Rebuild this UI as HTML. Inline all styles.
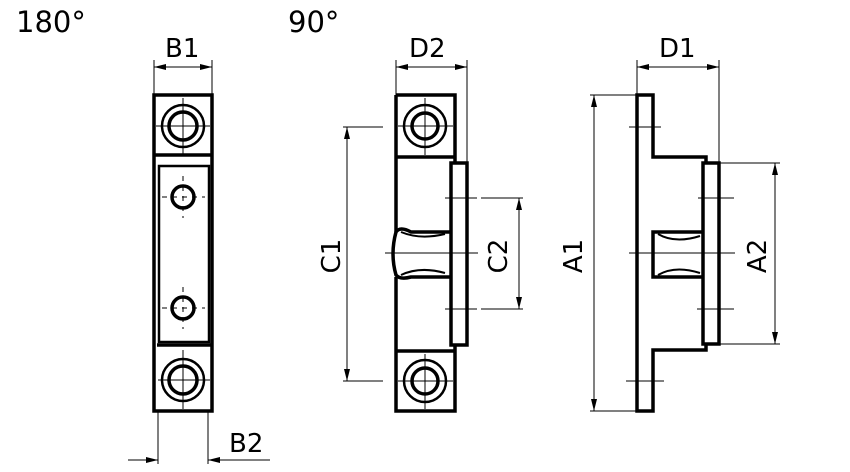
<!DOCTYPE html>
<html><head><meta charset="utf-8"><style>
html,body{margin:0;padding:0;background:#fff;}
svg{display:block;}
text{font-family:"DejaVu Sans","Liberation Sans",sans-serif;fill:#000;}
</style></head><body>
<svg width="850" height="472" viewBox="0 0 850 472" xmlns="http://www.w3.org/2000/svg">
<defs>
<marker id="a" viewBox="0 0 12 6" refX="12" refY="3" markerWidth="12" markerHeight="6" orient="auto-start-reverse" markerUnits="userSpaceOnUse"><path d="M0,0 L12,3 L0,6 z" fill="#000"/></marker>
</defs>
<text x="16" y="32" font-size="29">180°</text>
<text x="288" y="32" font-size="29">90°</text>
<text x="165" y="57" font-size="26">B1</text>
<text x="409" y="57" font-size="26">D2</text>
<text x="659" y="57" font-size="26">D1</text>
<text x="229" y="452" font-size="26">B2</text>
<text transform="translate(340,256) rotate(-90)" font-size="26" text-anchor="middle">C1</text>
<text transform="translate(507,256) rotate(-90)" font-size="26" text-anchor="middle">C2</text>
<text transform="translate(582,256) rotate(-90)" font-size="26" text-anchor="middle">A1</text>
<text transform="translate(766,256) rotate(-90)" font-size="26" text-anchor="middle">A2</text>

<g stroke="#000" stroke-width="1" fill="none">
<line x1="154" y1="60" x2="154" y2="95"/><line x1="212" y1="60" x2="212" y2="95"/>
<line x1="154" y1="67" x2="212" y2="67" marker-start="url(#a)" marker-end="url(#a)"/>
<line x1="158" y1="411" x2="158" y2="464"/><line x1="208" y1="411" x2="208" y2="464"/>
<line x1="128" y1="460" x2="158" y2="460" marker-end="url(#a)"/>
<line x1="270" y1="460" x2="208" y2="460" marker-end="url(#a)"/>
<line x1="396" y1="60" x2="396" y2="95"/><line x1="467" y1="60" x2="467" y2="163"/>
<line x1="396" y1="67" x2="467" y2="67" marker-start="url(#a)" marker-end="url(#a)"/>
<line x1="637" y1="60" x2="637" y2="95"/><line x1="719" y1="60" x2="719" y2="163"/>
<line x1="637" y1="67" x2="719" y2="67" marker-start="url(#a)" marker-end="url(#a)"/>
<line x1="343" y1="127" x2="383" y2="127"/><line x1="343" y1="381" x2="383" y2="381"/>
<line x1="347" y1="127" x2="347" y2="381" marker-start="url(#a)" marker-end="url(#a)"/>
<line x1="445" y1="198" x2="477" y2="198"/><line x1="481" y1="198" x2="523" y2="198"/>
<line x1="445" y1="309" x2="477" y2="309"/><line x1="481" y1="309" x2="523" y2="309"/>
<line x1="519" y1="198" x2="519" y2="309" marker-start="url(#a)" marker-end="url(#a)"/>
<line x1="385" y1="253" x2="478" y2="253"/>
<line x1="590" y1="95" x2="637" y2="95"/><line x1="590" y1="411" x2="637" y2="411"/>
<line x1="594" y1="95" x2="594" y2="411" marker-start="url(#a)" marker-end="url(#a)"/>
<line x1="719" y1="163" x2="780" y2="163"/><line x1="719" y1="344" x2="780" y2="344"/>
<line x1="775" y1="163" x2="775" y2="344" marker-start="url(#a)" marker-end="url(#a)"/>
<line x1="629" y1="127" x2="661" y2="127"/><line x1="626" y1="381" x2="664" y2="381"/>
<line x1="698" y1="198" x2="734" y2="198"/><line x1="697" y1="309" x2="734" y2="309"/>
<line x1="629" y1="253" x2="735" y2="253"/>
<line x1="183" y1="98" x2="183" y2="154"/><line x1="156" y1="126" x2="210" y2="126"/>
<line x1="183" y1="350" x2="183" y2="409"/><line x1="158" y1="380" x2="210" y2="380"/>
<line x1="183" y1="176" x2="183" y2="218" stroke-dasharray="5,5"/><line x1="162" y1="197" x2="205" y2="197" stroke-dasharray="5,5"/>
<line x1="183" y1="287" x2="183" y2="329" stroke-dasharray="5,5"/><line x1="162" y1="308" x2="205" y2="308" stroke-dasharray="5,5"/>
<line x1="425" y1="98" x2="425" y2="155"/><line x1="398" y1="126" x2="453" y2="126"/>
<line x1="425" y1="354" x2="425" y2="409"/><line x1="398" y1="381" x2="453" y2="381"/>
</g>

<g stroke="#000" stroke-width="3.5" fill="none">
<path d="M154,95 H212 V411 H154 Z"/>
<line x1="154" y1="155" x2="212" y2="155"/>
<line x1="157" y1="345" x2="211" y2="345"/>
<rect x="159" y="166" width="50" height="176" stroke-width="2.5"/>
<circle cx="183" cy="126" r="21" stroke-width="2.5"/><circle cx="183" cy="126" r="14"/>
<circle cx="183" cy="380" r="21" stroke-width="2.5"/><circle cx="183" cy="380" r="14"/>
<circle cx="183" cy="197" r="11"/><circle cx="183" cy="308" r="11"/>
<path d="M396,95 H455 V163 M455,345 V411 H396 V277 M396,232 V95"/>
<line x1="396" y1="157" x2="455" y2="157"/>
<line x1="396" y1="351" x2="455" y2="351"/>
<rect x="451" y="163" width="16" height="182"/>
<path d="M451,232 H411 Q400,226 396,232 Q390,254 396,275 Q400,280 411,277 H451"/>
<path d="M401,232 Q420,240 445,234" stroke-width="2"/>
<path d="M401,275 Q420,266 445,273" stroke-width="2"/>
<circle cx="425" cy="126" r="21" stroke-width="2.5"/><circle cx="425" cy="126" r="13"/>
<circle cx="425" cy="381" r="21" stroke-width="2.5"/><circle cx="425" cy="381" r="13"/>
<path d="M706,163 V157 H653 V95 H637 V411 H653 V350 H706 V344"/>
<rect x="703" y="163" width="16" height="181"/>
<path d="M703,232 H653 V277 H703"/>
<path d="M658,234 Q675,244 700,236" stroke-width="2"/>
<path d="M658,275 Q675,265 700,273" stroke-width="2"/>
</g>
</svg>
</body></html>
